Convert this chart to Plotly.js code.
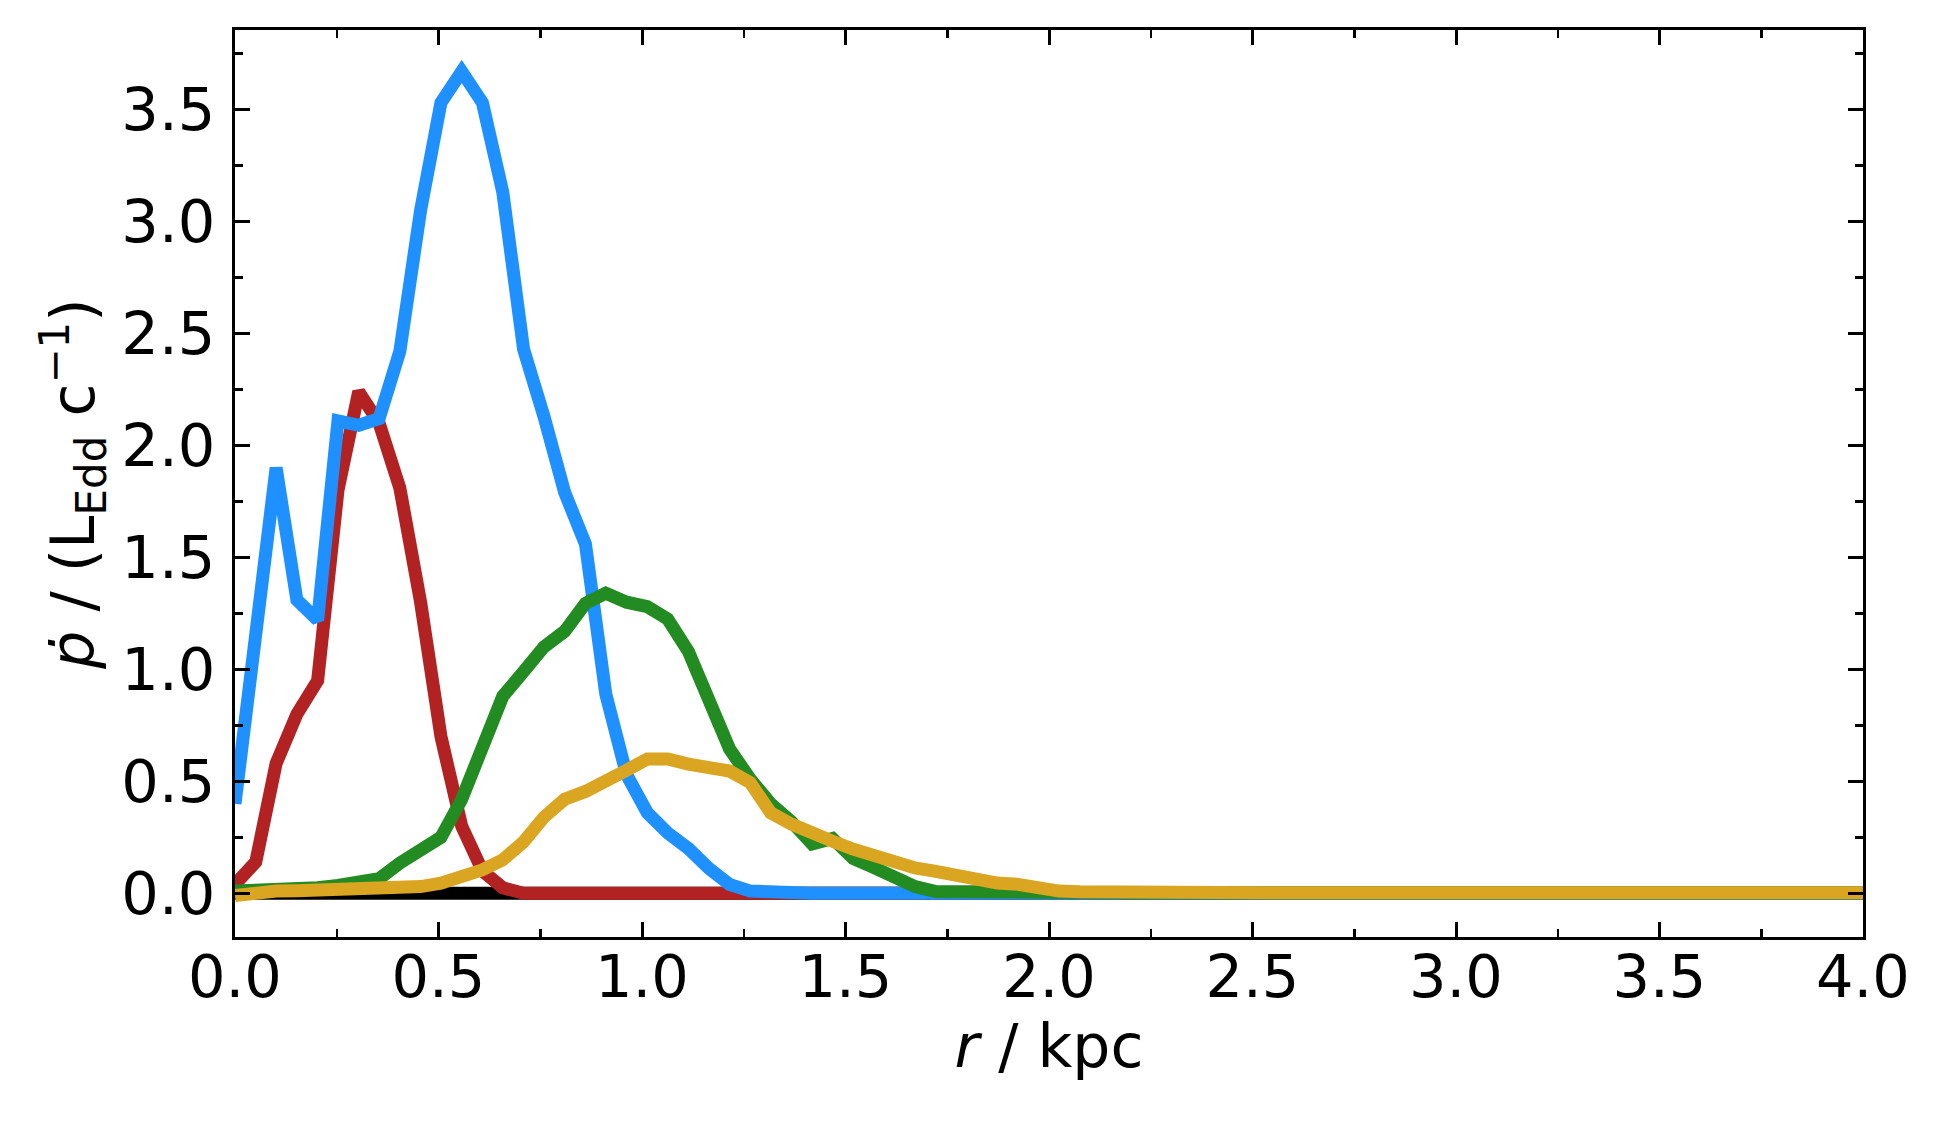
<!DOCTYPE html>
<html>
<head>
<meta charset="utf-8">
<script src="https://cdn.plot.ly/plotly-3.0.1.min.js"></script>
<style>
  html, body { margin: 0; padding: 0; background: #fff; }
  #chart { width: 1942px; height: 1121px; }
</style>
</head>
<body>
<div id="chart"></div>
<script>
// radius grid (kpc), 80 samples from 0 to 4
const radius = [
  0.000, 0.051, 0.101, 0.152, 0.203, 0.253, 0.304, 0.354, 0.405, 0.456,
  0.506, 0.557, 0.608, 0.658, 0.709, 0.759, 0.810, 0.861, 0.911, 0.962,
  1.013, 1.063, 1.114, 1.165, 1.215, 1.266, 1.316, 1.367, 1.418, 1.468,
  1.519, 1.570, 1.620, 1.671, 1.722, 1.772, 1.823, 1.873, 1.924, 1.975,
  2.025, 2.076, 2.127, 2.177, 2.228, 2.278, 2.329, 2.380, 2.430, 2.481,
  2.532, 2.582, 2.633, 2.684, 2.734, 2.785, 2.835, 2.886, 2.937, 2.987,
  3.038, 3.089, 3.139, 3.190, 3.241, 3.291, 3.342, 3.392, 3.443, 3.494,
  3.544, 3.595, 3.646, 3.696, 3.747, 3.797, 3.848, 3.899, 3.949, 4.000
];

// momentum rate per snapshot, in L_Edd / c
const pdotBlack = [
  0, 0, 0, 0, 0, 0, 0, 0, 0, 0.002,
  0.006, 0.010, 0.010, 0.004, 0, 0, 0, 0, 0, 0,
  0, 0, 0, 0, 0, 0, 0, 0, 0, 0,
  0, 0, 0, 0, 0, 0, 0, 0, 0, 0,
  0, 0, 0, 0, 0, 0, 0, 0, 0, 0,
  0, 0, 0, 0, 0, 0, 0, 0, 0, 0,
  0, 0, 0, 0, 0, 0, 0, 0, 0, 0,
  0, 0, 0, 0, 0, 0, 0, 0, 0, 0
];

const pdotRed = [
  0.04, 0.14, 0.58, 0.80, 0.95, 1.80, 2.24, 2.10, 1.81, 1.30,
  0.70, 0.30, 0.10, 0.025, 0, 0, 0, 0, 0, 0,
  0, 0, 0, 0, 0, 0, 0, 0, 0, 0,
  0, 0, 0, 0, 0, 0, 0, 0, 0, 0,
  0, 0, 0, 0, 0, 0, 0, 0, 0, 0,
  0, 0, 0, 0, 0, 0, 0, 0, 0, 0,
  0, 0, 0, 0, 0, 0, 0, 0, 0, 0,
  0, 0, 0, 0, 0, 0, 0, 0, 0, 0
];

const pdotBlue = [
  0.40, 1.18, 1.90, 1.31, 1.22, 2.11, 2.09, 2.12, 2.42, 3.05,
  3.53, 3.67, 3.53, 3.13, 2.43, 2.13, 1.79, 1.56, 0.89, 0.53,
  0.36, 0.27, 0.20, 0.11, 0.04, 0.01, 0.003, 0, 0, 0,
  0, 0, 0, 0, 0, 0, 0, 0, 0, 0,
  0, 0, 0, 0, 0, 0, 0, 0, 0, 0,
  0, 0, 0, 0, 0, 0, 0, 0, 0, 0,
  0, 0, 0, 0, 0, 0, 0, 0, 0, 0,
  0, 0, 0, 0, 0, 0, 0, 0, 0, 0
];

const pdotGreen = [
  0.010, 0.012, 0.015, 0.020, 0.025, 0.035, 0.045, 0.065, 0.135, 0.185,
  0.250, 0.420, 0.650, 0.880, 0.990, 1.100, 1.170, 1.295, 1.340, 1.300,
  1.280, 1.225, 1.080, 0.870, 0.645, 0.510, 0.400, 0.320, 0.220, 0.245,
  0.155, 0.115, 0.065, 0.030, 0.008, 0.006, 0.005, 0.004, 0.004, 0.003,
  0.003, 0.002, 0.002, 0.002, 0.002, 0.002, 0.002, 0.003, 0.003, 0.004,
  0.004, 0.004, 0.005, 0.005, 0.005, 0.005, 0.004, 0.004, 0.003, 0.003,
  0.002, 0.002, 0.002, 0.002, 0.001, 0.001, 0.001, 0.001, 0.001, 0.001,
  0.001, 0.001, 0.001, 0.001, 0.001, 0.001, 0.001, 0.001, 0.001, 0.001
];

const pdotYellow = [
  -0.010, 0.005, 0.010, 0.012, 0.014, 0.016, 0.018, 0.022, 0.026, 0.030,
  0.045, 0.070, 0.105, 0.150, 0.230, 0.340, 0.420, 0.455, 0.510, 0.550,
  0.600, 0.600, 0.577, 0.555, 0.546, 0.494, 0.360, 0.309, 0.264, 0.233,
  0.197, 0.166, 0.130, 0.113, 0.098, 0.076, 0.054, 0.046, 0.040, 0.018,
  0.010, 0.007, 0.005, 0.003, 0.003, 0.003, 0.003, 0.003, 0.003, 0.003,
  0.003, 0.003, 0.003, 0.003, 0.003, 0.003, 0.003, 0.003, 0.003, 0.003,
  0.003, 0.003, 0.003, 0.003, 0.003, 0.003, 0.003, 0.003, 0.003, 0.003,
  0.003, 0.003, 0.003, 0.003, 0.003, 0.003, 0.003, 0.003, 0.003, 0.003
];

const seriesValues = [pdotBlack, pdotRed, pdotBlue, pdotGreen, pdotYellow];
const seriesColors = ['#000000', '#b22222', '#1e90ff', '#228b22', '#daa520'];

const traces = seriesValues.map((vals, i) => ({
    type: 'scatter',
    mode: 'lines',
    x: radius,
    y: vals,
    line: { color: seriesColors[i], width: 13 },
    hoverinfo: 'skip',
    showlegend: false
}));

// matplotlib-like frame: ticks inside on all four sides
const axisCommon = {
    showline: true,
    linecolor: '#000',
    linewidth: 3,
    mirror: 'allticks',
    ticks: 'inside',
    ticklen: 15,
    tickwidth: 3,
    tickcolor: '#000',
    showgrid: false,
    zeroline: false,
    tickfont: { family: 'DejaVu Sans', size: 59, color: '#000' },
    minor: { ticks: 'inside', ticklen: 8, tickwidth: 2.5, tickcolor: '#000', showgrid: false }
};

const layout = {
    width: 1942,
    height: 1121,
    margin: { l: 235, r: 79, t: 30, b: 184 },
    paper_bgcolor: '#fff',
    plot_bgcolor: '#fff',
    font: { family: 'DejaVu Sans', color: '#000' },
    showlegend: false,
    xaxis: Object.assign({}, axisCommon, {
        range: [0, 4],
        tick0: 0,
        dtick: 0.5,
        tickformat: '.1f',
        ticklabelstandoff: -14,
        minor: Object.assign({}, axisCommon.minor, { dtick: 0.25 }),
        title: { text: '<i>r</i> / kpc', font: { size: 60 }, standoff: 8 }
    }),
    yaxis: Object.assign({}, axisCommon, {
        range: [-0.195, 3.855],
        tick0: 0,
        dtick: 0.5,
        tickformat: '.1f',
        ticklabelstandoff: 5,
        minor: Object.assign({}, axisCommon.minor, { dtick: 0.25 }),
        title: { text: '<i>ṗ</i> / (L<sub>Edd</sub> c<sup>−1</sup>)', font: { size: 60 }, standoff: 8 }
    })
};

Plotly.newPlot('chart', traces, layout, { displayModeBar: false, staticPlot: true });
</script>
</body>
</html>
